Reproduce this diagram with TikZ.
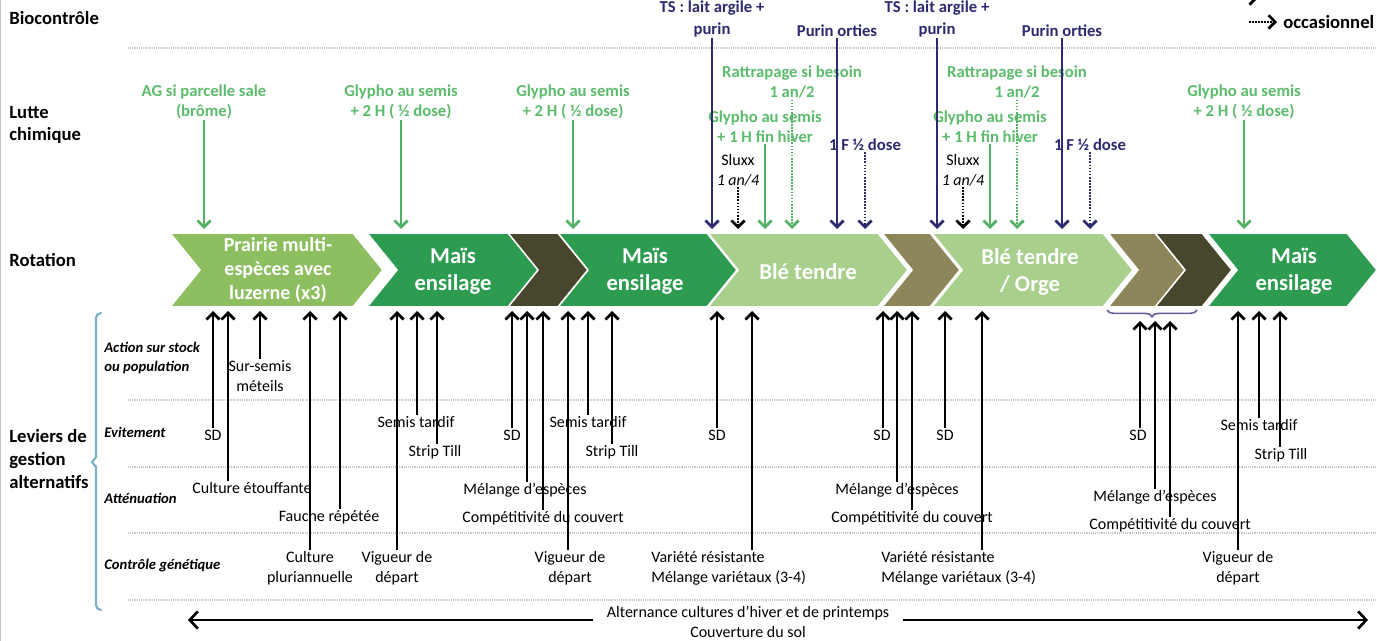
\documentclass[tikz,border=0pt]{standalone}
\usepackage{fontspec}
\setmainfont{Carlito}
\usetikzlibrary{arrows.meta,decorations.pathreplacing,calc}
\definecolor{gtxt}{RGB}{92,188,108}
\definecolor{garr}{RGB}{82,178,100}
\definecolor{navy}{RGB}{46,42,112}
\definecolor{cPra}{RGB}{141,190,95}
\definecolor{cMais}{RGB}{45,155,80}
\definecolor{cDark}{RGB}{72,70,45}
\definecolor{cBle}{RGB}{168,207,140}
\definecolor{cOlive}{RGB}{140,134,90}
\definecolor{cLine}{RGB}{205,195,195}
\definecolor{cBlue}{RGB}{125,175,200}
\definecolor{cBrace}{RGB}{100,90,150}
\newcommand{\chvshape}[3]{\fill[#3, draw=white, line width=1.2pt] (#1,233) -- ({#2-30},233) -- (#2,270) -- ({#2-30},307) -- (#1,307) -- ({#1+30},270) -- cycle;}
\begin{document}
\begin{tikzpicture}[x=0.75pt,y=-0.75pt,
  every node/.style={inner sep=1pt, outer sep=0pt},
  lbl/.style={font=\fontsize{12}{15}\selectfont, align=center},
  lblL/.style={font=\fontsize{12}{15}\selectfont, align=left, anchor=west},
  cat/.style={font=\bfseries\fontsize{14}{17}\selectfont, align=left, anchor=west},
  sub/.style={font=\bfseries\itshape\fontsize{11}{14}\selectfont, align=left, anchor=west},
  gl/.style={font=\bfseries\fontsize{12.5}{15}\selectfont, align=center, text=gtxt},
  nl/.style={font=\bfseries\fontsize{12.5}{16.5}\selectfont, align=center, text=navy},
  ctext/.style={text=white, font=\bfseries\fontsize{17}{20}\selectfont, align=center},
  guide/.style={cLine, line width=0.9pt, dash pattern=on 0.7pt off 0.7pt},
  arr/.style={line width=2pt, -{Straight Barb[length=5pt,width=10pt]}},
  up/.style={arr, black},
  gsolid/.style={arr, garr},
  gdot/.style={arr, garr, dash pattern=on 1.3pt off 1pt},
  nsolid/.style={arr, navy},
  ndot/.style={arr, navy, dash pattern=on 1.3pt off 1pt},
  kdot/.style={arr, black, dash pattern=on 1.3pt off 1pt},
  bigarr/.style={line width=2pt, -{Straight Barb[length=6pt,width=13pt]}},
]
\useasboundingbox (0,0) rectangle (1377,641);
\fill[white] (0,0) rectangle (1377,641);
\draw[gray!45, line width=1pt] (0.7,0) -- (0.7,641);

% guides
\foreach \yy in {48,400,467,533,600} \draw[guide] (128,\yy) -- (1377,\yy);

% category labels
\node[cat] (bio) at (8,18) {Biocontrôle};
\node[cat] (lut) at (8,125) {Lutte\\chimique};
\node[cat] (rot) at (8,260) {Rotation};
\node[cat] (lev) at (8,459) {Leviers de\\gestion\\alternatifs};
\node[sub] (act) at (103,358) {Action sur stock\\ou population};
\node[sub] (evi) at (103,432) {Evitement};
\node[sub] (att) at (103,498) {Atténuation};
\node[sub] (gen) at (103,566) {Contrôle génétique};

% brace
\draw[cBlue, line width=1.6pt, line cap=round] (101,313) to[out=180,in=90] (96,318) -- (96,457) -- (92,462) -- (96,467) -- (96,605) to[out=-90,in=180] (101,610);

% legend
\coordinate (leg0) at (1230,-2);
\coordinate (leg0e) at (1258,-2);
\draw[arr, black] (leg0) -- (leg0e);
\node[font=\bfseries\fontsize{14}{16}\selectfont, anchor=west] (occ) at (1282,22) {occasionnel};
\coordinate (leg1) at (1249,22);
\draw[kdot] (leg1) -- ($(occ.west)+(-5,0)$);

% chevrons
\chvshape{170}{383}{cPra}
\chvshape{367}{540}{cMais}
\chvshape{508}{588}{cDark}
\chvshape{558}{737}{cMais}
\chvshape{708}{908}{cBle}
\chvshape{882}{960}{cOlive}
\chvshape{932}{1133}{cBle}
\chvshape{1108}{1187}{cOlive}
\chvshape{1155}{1232}{cDark}
\chvshape{1207}{1377}{cMais}
\node[ctext, font=\bfseries\fontsize{15}{18}\selectfont] (c1) at (278,270) {Prairie multi-\\espèces avec\\luzerne (x3)};
\node[ctext] (c2) at (453,271) {Maïs\\ensilage};
\node[ctext] (c4) at (645,271) {Maïs\\ensilage};
\node[ctext] (c5) at (808,272) {Blé tendre};
\node[ctext] (c7) at (1030,272) {Blé tendre\\/ Orge};
\node[ctext] (c10) at (1294,271) {Maïs\\ensilage};

\coordinate (rt) at (0,229);
\coordinate (rb) at (0,311);
\coordinate (rb2) at (0,321);

% brace under transition chevrons
\draw[cBrace, line width=1.2pt, decorate, decoration={brace, mirror, amplitude=5pt}] (1107,310) -- (1197,310);

% top labels
\node[gl] (ag) at (204,102) {AG si parcelle sale\\(brôme)};
\node[gl] (g1) at (401,102) {Glypho au semis\\+ 2 H ( ½ dose)};
\node[gl] (g2) at (573,102) {Glypho au semis\\+ 2 H ( ½ dose)};
\node[gl] (g3) at (1244,102) {Glypho au semis\\+ 2 H ( ½ dose)};
\foreach \o/\s in {0/a,225/b}{
  \node[nl] (ts\s) at ({712+\o},19) {TS : lait argile +\\purin};
  \node[nl] (po\s) at ({837+\o},31) {Purin orties};
  \node[gl] (ra\s) at ({792+\o},82) {Rattrapage si besoin\\1 an/2};
  \node[gl] (gh\s) at ({765+\o},127) {Glypho au semis\\+ 1 H fin hiver};
  \node[lbl] (sl\s) at ({738+\o},170) {Sluxx\\\textit{1 an/4}};
  \node[nl] (fd\s) at ({865+\o},145) {1 F ½ dose};
  \draw[nsolid] (ts\s.south) -- (ts\s.south |- rt);
  \draw[nsolid] (po\s.south) -- (po\s.south |- rt);
  \draw[gdot] (ra\s.south) -- (ra\s.south |- rt);
  \draw[gsolid] (gh\s.south) -- (gh\s.south |- rt);
  \draw[kdot] (sl\s.south) -- (sl\s.south |- rt);
  \draw[ndot] (fd\s.south) -- (fd\s.south |- rt);
}
\foreach \n in {ag,g1,g2,g3} \draw[gsolid] (\n.south) -- (\n.south |- rt);

% bottom labels
\node[lbl] (sd1) at (213,435) {SD};
\node[lbl] (ce) at (252,488) {Culture étouffante};
\node[lbl] (ssm) at (260,376) {Sur-semis\\méteils};
\node[lbl] (cp) at (310,568) {Culture\\pluriannuelle};
\node[lbl] (fr) at (329,517) {Fauche répétée};
\node[lbl] (vd1) at (397,568) {Vigueur de\\départ};
\node[lbl] (st1) at (416,422) {Semis tardif};
\node[lbl] (stt1) at (435,452) {Strip Till};

\node[lbl] (sd2) at (512,435) {SD};
\node[lbl] (me1) at (525,490) {Mélange d’espèces};
\node[lbl] (cc1) at (543,518) {Compétitivité du couvert};
\node[lbl] (vd2) at (570,568) {Vigueur de\\départ};
\node[lbl] (st2) at (588,422) {Semis tardif};
\node[lbl] (stt2) at (612,452) {Strip Till};

\node[lbl] (sd3) at (717,435) {SD};
\node[lblL] (vr1) at (650,568) {Variété résistante\\Mélange variétaux (3-4)};

\node[lbl] (sd4) at (882,435) {SD};
\node[lbl] (me2) at (897,490) {Mélange d’espèces};
\node[lbl] (cc2) at (912,518) {Compétitivité du couvert};
\node[lbl] (sd5) at (945,435) {SD};
\node[lblL] (vr2) at (880,568) {Variété résistante\\Mélange variétaux (3-4)};

\node[lbl] (sd6) at (1138,435) {SD};
\node[lbl] (me3) at (1155,497) {Mélange d’espèces};
\node[lbl] (cc3) at (1170,525) {Compétitivité du couvert};
\node[lbl] (vd3) at (1238,568) {Vigueur de\\départ};
\node[lbl] (st3) at (1259,425) {Semis tardif};
\node[lbl] (stt3) at (1281,455) {Strip Till};

% bottom arrows
\foreach \n/\x in {sd1/213,ce/228,ssm/260,cp/310,fr/340,vd1/397,st1/417,stt1/437,
                   sd2/512,me1/527,cc1/543,vd2/568,st2/588,stt2/612,
                   sd3/717,vr1/752,sd4/883,me2/897,cc2/912,sd5/945,vr2/982,
                   vd3/1238,st3/1259,stt3/1280}
  \draw[up] (\n.north -| \x,0) -- (rb -| \x,0);
\foreach \n/\x in {sd6/1140,me3/1155,cc3/1170}
  \draw[up] (\n.north -| \x,0) -- (rb2 -| \x,0);

% bottom double arrow
\node[lbl] (alt) at (748,622) {Alternance cultures d’hiver et de printemps\\Couverture du sol};
\coordinate (al) at (188,620);
\coordinate (ar) at (1368,620);
\draw[bigarr] ($(alt.west |- al)+(-13,0)$) -- (al);
\draw[bigarr] ($(alt.east |- ar)+(13,0)$) -- (ar);
\end{tikzpicture}
\end{document}
